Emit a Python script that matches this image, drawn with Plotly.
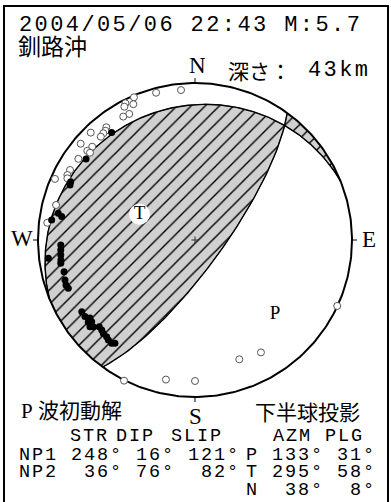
import numpy as np
import plotly.graph_objects as go

# ---- event information ----
event_date = "2004/05/06"
event_time = "22:43"
magnitude = "M:5.7"
region = "釧路沖"
depth_km = 43

# ---- focal mechanism: nodal planes (strike, dip, slip) and principal axes (azimuth, plunge) ----
plane_names = ["NP1", "NP2"]
strikes = [248, 36]
dips = [16, 76]
slips = [121, 82]
axis_names = ["P", "T", "N"]
axis_azm = [133, 295, 38]
axis_plg = [31, 58, 8]

# ---- first-motion polarities on the equal-area net (east, north; unit circle) ----
up_e = [-0.531, -0.694, -0.792, -0.796, -0.871, -0.849, -0.913, -0.934, -0.855, -0.855,
        -0.855, -0.854, -0.855, -0.834, -0.828, -0.822, -0.807, -0.721, -0.701, -0.669,
        -0.658, -0.669, -0.648, -0.610, -0.594, -0.584, -0.563, -0.552, -0.531, -0.510,
        -0.680]
up_n = [0.685, 0.516, 0.371, 0.350, 0.170, 0.149, 0.127, -0.117, -0.032, -0.064,
        -0.096, -0.127, -0.148, -0.202, -0.255, -0.287, -0.308, -0.457, -0.488, -0.497,
        -0.520, -0.552, -0.552, -0.552, -0.573, -0.595, -0.616, -0.637, -0.658, -0.658,
        -0.522]
down_e = [-0.089, -0.248, -0.389, -0.443, -0.393, -0.450, -0.419, -0.457, -0.565, -0.570,
          -0.584, -0.600, -0.664, -0.728, -0.655, -0.686, -0.669, -0.743, -0.796, -0.813,
          -0.813, -0.892, -0.885, -0.941, -0.452, -0.185, 0.000, 0.282, 0.420, 0.906]
down_n = [0.955, 0.938, 0.909, 0.871, 0.865, 0.849, 0.803, 0.786, 0.718, 0.696,
          0.680, 0.658, 0.684, 0.613, 0.594, 0.568, 0.556, 0.517, 0.446, 0.414,
          0.393, 0.389, 0.223, 0.110, -0.896, -0.889, -0.898, -0.760, -0.716, -0.420]

# ---- page geometry (pixels) ----
W, H = 391, 502
CX, CY, R = 195.0, 240.0, 157.0

X_RANGE = [-CX / R, (W - CX) / R]
Y_RANGE = [-(H - CY) / R, CY / R]


def px(x):
    return x / W


def py(y):
    return 1 - y / H


def project(az, plunge):
    """Lower-hemisphere equal-area (Schmidt) projection."""
    az = np.radians(np.asarray(az, float))
    pl = np.radians(np.asarray(plunge, float))
    r = np.sqrt(2.0) * np.sin((np.pi / 2 - pl) / 2)
    return r * np.sin(az), r * np.cos(az)


def plane_points(strike, dip, a0, a1, n=200):
    alpha = np.linspace(a0, a1, n)
    pl = np.degrees(np.arctan(np.tan(np.radians(dip)) * np.sin(np.radians(alpha))))
    return project(strike + alpha, pl)


def vec(az, pl):
    a, p = np.radians(az), np.radians(pl)
    return np.array([np.cos(p) * np.sin(a), np.cos(p) * np.cos(a), np.sin(p)])


# intersection of the two nodal planes (null axis) in each plane's own parameter
n1 = vec(strikes[0] - 90, 90 - dips[0])
n2 = vec(strikes[1] - 90, 90 - dips[1])
b = np.cross(n1, n2)
b = b / np.linalg.norm(b)
if b[2] < 0:
    b = -b
b_az = np.degrees(np.arctan2(b[0], b[1])) % 360
a1_b = (b_az - strikes[0]) % 360
a2_b = (b_az - strikes[1]) % 360


def arc(az0, az1, n=100):
    t = np.radians(np.linspace(az0, az1, n))
    return np.sin(t), np.cos(t)


end1 = (strikes[0] + 180) % 360   # far end of NP1 on the primitive
end2 = (strikes[1] + 180) % 360   # far end of NP2 on the primitive

# compressional lens: NP1 (edge -> B), NP2 (B -> edge), primitive arc back
x1, y1 = plane_points(strikes[0], dips[0], 0, a1_b)
x2, y2 = plane_points(strikes[1], dips[1], a2_b, 180)
x3, y3 = arc(end2, strikes[0])
lens_x = np.concatenate([x1, x2, x3])
lens_y = np.concatenate([y1, y2, y3])

# opposite compressional wedge beyond the null axis
w1x, w1y = plane_points(strikes[0], dips[0], a1_b, 180)
w2x, w2y = arc(end1, strikes[1])
w3x, w3y = plane_points(strikes[1], dips[1], 0, a2_b)
wedge_x = np.concatenate([w1x, w2x, w3x])
wedge_y = np.concatenate([w1y, w2y, w3y])

hatch = dict(shape="/", size=10, solidity=0.14, fgcolor="#000000",
             bgcolor="#d0d0d0", fillmode="replace")

fig = go.Figure()
for fx, fy in [(lens_x, lens_y), (wedge_x, wedge_y)]:
    fig.add_trace(go.Scatter(x=fx, y=fy, mode="lines", fill="toself",
                             fillcolor="#d0d0d0", fillpattern=hatch,
                             line=dict(width=0.8, color="#222222"),
                             hoverinfo="skip"))

# nodal planes
for s, d in zip(strikes, dips):
    nx, ny = plane_points(s, d, 0, 180, 300)
    fig.add_trace(go.Scatter(x=nx, y=ny, mode="lines",
                             line=dict(color="black", width=1.4), hoverinfo="skip"))

# primitive circle
cx, cy = arc(0, 360, 361)
fig.add_trace(go.Scatter(x=cx, y=cy, mode="lines",
                         line=dict(color="black", width=2), hoverinfo="skip"))

# first motions
fig.add_trace(go.Scatter(x=down_e, y=down_n, mode="markers",
                         marker=dict(size=7, color="white",
                                     line=dict(color="#555555", width=1)),
                         hoverinfo="skip"))
fig.add_trace(go.Scatter(x=up_e, y=up_n, mode="markers",
                         marker=dict(size=7, color="black", line=dict(width=0)),
                         hoverinfo="skip"))

# P and T axes
tx, ty = project(axis_azm[1], axis_plg[1])
pxx, pyy = project(axis_azm[0], axis_plg[0])
fig.add_trace(go.Scatter(x=[tx], y=[ty], mode="markers+text", text=["T"],
                         textposition="middle center",
                         marker=dict(size=21, color="white", line=dict(width=0)),
                         textfont=dict(family="Liberation Serif", size=19, color="black"),
                         hoverinfo="skip"))
fig.add_trace(go.Scatter(x=[pxx], y=[pyy], mode="text", text=["P"],
                         textposition="middle center",
                         textfont=dict(family="Liberation Serif", size=19, color="black"),
                         hoverinfo="skip"))

shapes = []
tick = 5 / R
for x0, y0, x1_, y1_ in [(0, 1, 0, 1 + tick), (0, -1, 0, -1 - tick),
                         (-1, 0, -1 - tick, 0), (1, 0, 1 + tick, 0)]:
    shapes.append(dict(type="line", x0=x0, y0=y0, x1=x1_, y1=y1_,
                       line=dict(color="black", width=1)))
c = 3.5 / R
shapes.append(dict(type="line", x0=-c, y0=0, x1=c, y1=0, line=dict(color="#333", width=1)))
shapes.append(dict(type="line", x0=0, y0=-c, x1=0, y1=c, line=dict(color="#333", width=1)))
# outer frame
shapes.append(dict(type="rect", xref="paper", yref="paper",
                   x0=px(4), y0=py(520), x1=px(388), y1=py(6),
                   line=dict(color="black", width=2)))

MONO = "Liberation Mono"
SERIF = "Liberation Serif, Noto Sans CJK JP"
CJK = "Noto Sans CJK JP"
NB = "\u00a0"

anns = []


def label(text, x, y, size, family, xanchor="left", spacing=None):
    if spacing is not None:
        text = f'<span style="letter-spacing:{spacing}px">{text}</span>'
    anns.append(dict(text=text, x=px(x), y=py(y), xref="paper", yref="paper",
                     xanchor=xanchor, yanchor="middle", showarrow=False,
                     font=dict(family=family, size=size, color="black")))


# wide typewriter look: regular mono glyphs with extra tracking
TITLE_FS, TITLE_SP = 22, 2.4
TABLE_FS, TABLE_SP = 18.5, 1.9

label(f"{event_date} {event_time} {magnitude}".replace(" ", NB), 17, 26,
      TITLE_FS, MONO, spacing=TITLE_SP)
label(region, 16, 45, 23, CJK)
label("深さ：", 226, 70, 21, CJK)
label(f"{depth_km}km", 306, 70, TITLE_FS, MONO, spacing=TITLE_SP)
label("N", 197, 65, 23, "Liberation Serif", "center")
label("S", 195, 416, 23, "Liberation Serif", "center")
label("W", 22, 238, 23, "Liberation Serif", "center")
label("E", 369, 239, 23, "Liberation Serif", "center")
label("P" + NB + "波初動解", 19, 411, 21, SERIF)
label("下半球投影", 253, 411, 21, CJK)

label("STR", 68, 436, TABLE_FS, MONO, spacing=TABLE_SP)
label("DIP", 114, 436, TABLE_FS, MONO, spacing=TABLE_SP)
label("SLIP", 169, 436, TABLE_FS, MONO, spacing=TABLE_SP)
label(f"AZM{NB}PLG", 271, 436, TABLE_FS, MONO, spacing=TABLE_SP)
row_y = [455, 472, 490]
for i, (nm, s, d, r) in enumerate(zip(plane_names, strikes, dips, slips)):
    row = f"{nm} {s:3d}° {d:2d}° {r:3d}°".replace(" ", NB)
    label(row, 17, row_y[i], TABLE_FS, MONO, spacing=TABLE_SP)
for i, (nm, a, p) in enumerate(zip(axis_names, axis_azm, axis_plg)):
    row = f"{nm} {a:3d}° {p:2d}°".replace(" ", NB)
    label(row, 244, row_y[i], TABLE_FS, MONO, spacing=TABLE_SP)

fig.update_layout(
    width=W, height=H, margin=dict(l=0, r=0, t=0, b=0),
    paper_bgcolor="white", plot_bgcolor="white", showlegend=False,
    xaxis=dict(range=X_RANGE, visible=False, fixedrange=True),
    yaxis=dict(range=Y_RANGE, visible=False, fixedrange=True),
    shapes=shapes, annotations=anns,
)

fig.write_html("out.html", config={"displayModeBar": False})
